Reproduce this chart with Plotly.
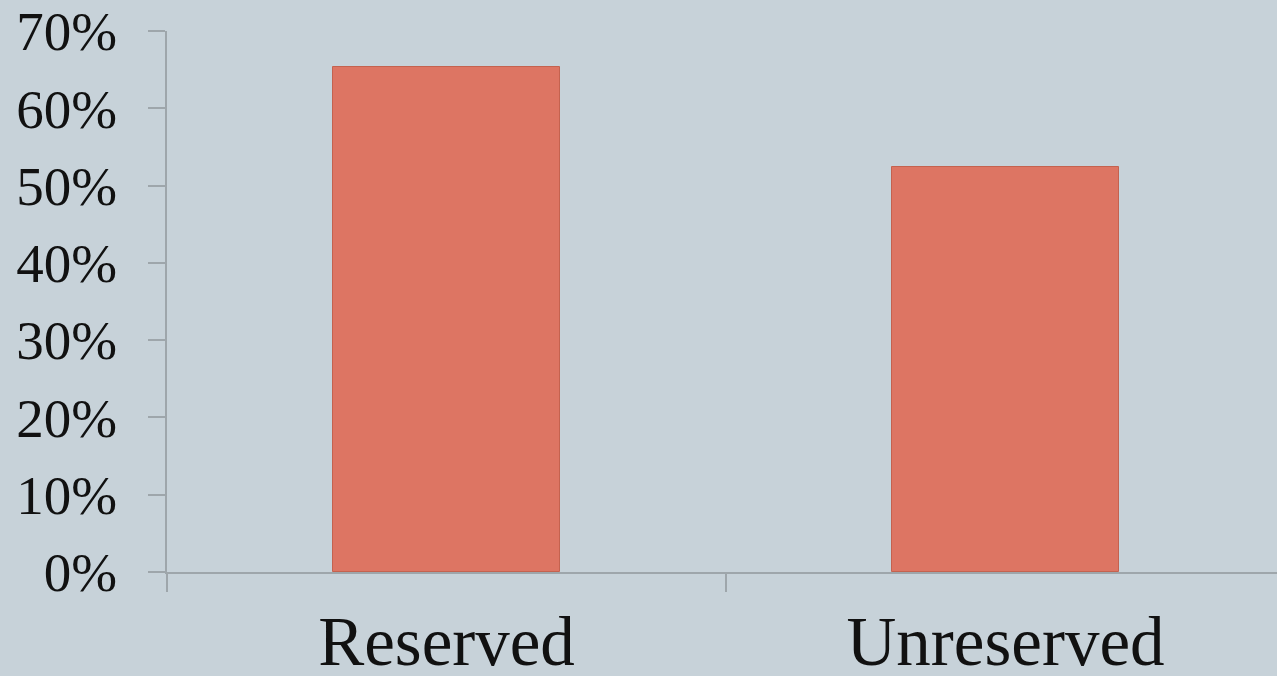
import plotly.graph_objects as go

# Share of seats by category
categories = ["Reserved", "Unreserved"]
shares = [65.4, 52.4]
y_tickvals = [0, 10, 20, 30, 40, 50, 60, 70]
y_ticktext = ["0%", "10%", "20%", "30%", "40%", "50%", "60%", "70%"]

BG = "#c7d2d9"
AXIS = "#9ea6ab"
FONT = "Liberation Serif"

fig = go.Figure(
    go.Bar(
        x=categories,
        y=shares,
        width=0.406,
        marker=dict(color="#dd7563", line=dict(color="#c4624f", width=1)),
        hoverinfo="skip",
    )
)

fig.update_layout(
    width=1277,
    height=676,
    paper_bgcolor=BG,
    plot_bgcolor=BG,
    margin=dict(l=167, r=0, t=31, b=104),
    showlegend=False,
    bargap=0,
)

fig.update_xaxes(
    type="category",
    range=[-0.5, 1.4857],
    automargin=False,
    showline=True,
    linecolor=AXIS,
    linewidth=2,
    ticks="outside",
    tickson="boundaries",
    ticklen=18,
    tickwidth=2,
    tickcolor=AXIS,
    tickfont=dict(family=FONT, size=69, color="#111111"),
    ticklabelstandoff=8,
    showgrid=False,
    zeroline=False,
)

fig.update_yaxes(
    range=[0, 70],
    automargin=False,
    tickvals=y_tickvals,
    ticktext=y_ticktext,
    showline=True,
    linecolor=AXIS,
    linewidth=2,
    ticks="outside",
    ticklen=17,
    tickwidth=2,
    tickcolor=AXIS,
    tickfont=dict(family=FONT, size=55, color="#111111"),
    ticklabelstandoff=20,
    showgrid=False,
    zeroline=False,
)

fig.write_html("out.html")
